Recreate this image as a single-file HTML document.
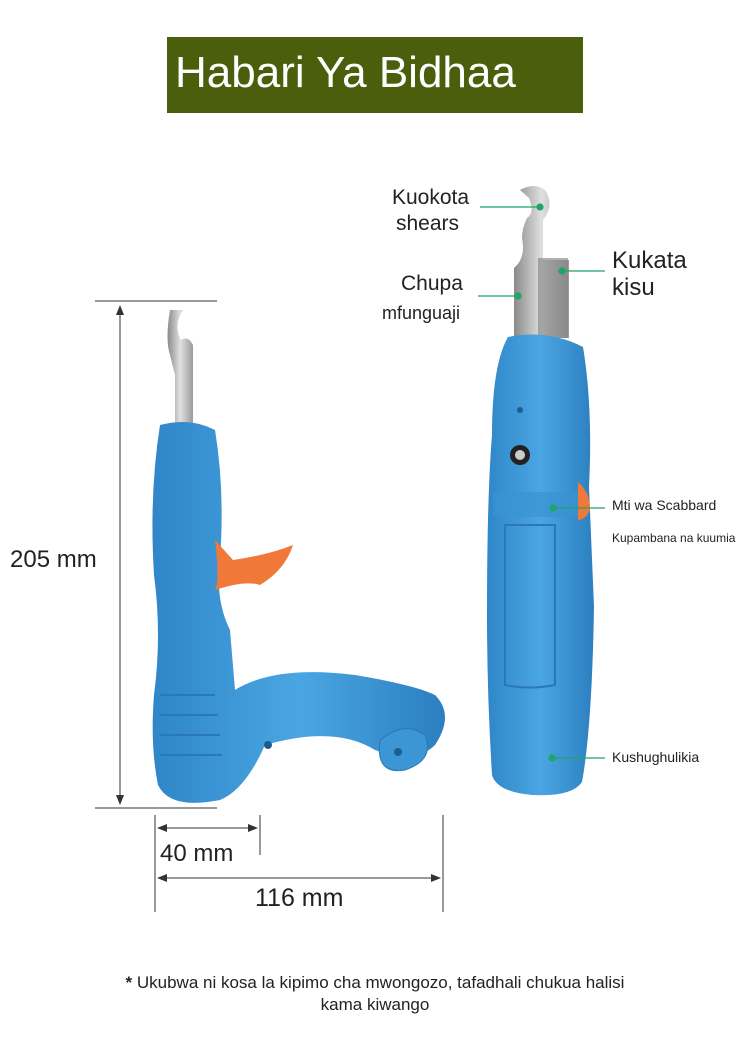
<!DOCTYPE html>
<html><head><meta charset="utf-8"><style>
body{margin:0;background:#fff;}
.wrap{position:relative;width:750px;height:1059px;overflow:hidden;font-family:"Liberation Sans",sans-serif;}
.t{position:absolute;color:#222;white-space:nowrap;}
</style></head><body><div class="wrap">
<div style="position:absolute;left:167px;top:37px;width:416px;height:76px;background:#4a5e0b;"></div>
<div class="t" style="left:175px;top:48px;font-size:44px;color:#fff;">Habari Ya Bidhaa</div>

<svg width="750" height="1059" style="position:absolute;left:0;top:0">
<defs>
<linearGradient id="bl" x1="0" x2="1"><stop offset="0" stop-color="#2f86c8"/><stop offset=".5" stop-color="#4aa6e2"/><stop offset="1" stop-color="#2c7fc0"/></linearGradient>
<linearGradient id="st" x1="0" x2="1"><stop offset="0" stop-color="#8a8a8a"/><stop offset=".5" stop-color="#e0e0e0"/><stop offset="1" stop-color="#9a9a9a"/></linearGradient>
</defs>
<g stroke="#333" stroke-width="1" fill="none">
<line x1="95" y1="301" x2="217" y2="301"/><line x1="95" y1="808" x2="217" y2="808"/>
<line x1="120" y1="308" x2="120" y2="802"/>
<line x1="155" y1="815" x2="155" y2="912"/><line x1="260" y1="815" x2="260" y2="855"/><line x1="443" y1="815" x2="443" y2="912"/>
<line x1="160" y1="828" x2="255" y2="828"/><line x1="160" y1="878" x2="438" y2="878"/>
</g>
<g fill="#333">
<path d="M120 305l-4 10h8z"/><path d="M120 805l-4-10h8z"/>
<path d="M157 828l10-4v8z"/><path d="M258 828l-10-4v8z"/>
<path d="M157 878l10-4v8z"/><path d="M441 878l-10-4v8z"/>
</g>
<path d="M170 310 q-5 30 0 45 l5 20 v50 h18 v-80 q-5 -10 -12 -5 q-8 -15 2 -30z" fill="url(#st)"/>
<path d="M160 425 q30 -8 55 5 q10 60 5 130 q-5 40 10 70 l5 60 q40 -25 120 -15 q60 10 80 20 q20 20 0 50 q-20 20 -60 5 q-40 -25 -110 -5 q-20 45 -45 55 q-50 10 -62 -15 q-8 -40 -4 -90 q8 -60 0 -120 q-5 -80 6 -150z" fill="url(#bl)"/>
<path d="M215 540 q5 40 0 50 q30 -10 45 -5 q25 -15 33 -40 q-25 10 -60 15z" fill="#f07838"/>
<g stroke="#2a78b8" stroke-width="2"><line x1="160" y1="695" x2="215" y2="695"/><line x1="160" y1="715" x2="218" y2="715"/><line x1="160" y1="735" x2="220" y2="735"/><line x1="160" y1="755" x2="222" y2="755"/></g>
<path d="M380 740 q25 -20 45 -5 q10 25 -20 35 q-30 5 -25 -30z" fill="#3c96d4" stroke="#2a78b8"/>
<circle cx="398" cy="752" r="4" fill="#1d5d8e"/><circle cx="268" cy="745" r="4" fill="#1d5d8e"/>
<path d="M520 190 q15 -8 25 0 q10 15 -2 30 v40 h26 v78 h-55 v-70 q12 -10 8 -30 q0 -10 5 -20 q8 -5 2 -20z" fill="url(#st)"/>
<path d="M538 258 h30 v80 h-30z" fill="#7d7d7d" opacity=".6"/>
<path d="M508 337 q40 -8 75 10 q10 60 6 140 l5 120 q-2 120 -12 175 q-10 15 -50 13 q-35 -3 -40 -20 q-5 -80 -5 -160 q0 -120 5 -180 q0 -70 16 -98z" fill="url(#bl)"/>
<path d="M493 492 h95 v25 h-95z" fill="#3a93d2" opacity=".7"/>
<path d="M505 525 h50 v160 q-25 5 -50 0z" fill="none" stroke="#2a78b8" stroke-width="2"/>
<circle cx="520" cy="455" r="10" fill="#222"/><circle cx="520" cy="455" r="5" fill="#ccc"/>
<circle cx="520" cy="410" r="3" fill="#1d5d8e"/>
<path d="M578 482 q12 10 12 28 q-5 10 -12 10z" fill="#f07838"/>
<g stroke="#1fa566" stroke-width="1.2" fill="#1fa566">
<line x1="480" y1="207" x2="540" y2="207"/><circle cx="540" cy="207" r="3"/>
<line x1="478" y1="296" x2="518" y2="296"/><circle cx="518" cy="296" r="3"/>
<line x1="562" y1="271" x2="605" y2="271"/><circle cx="562" cy="271" r="3"/>
<line x1="553" y1="508" x2="605" y2="508"/><circle cx="553" cy="508" r="3"/>
<line x1="552" y1="758" x2="605" y2="758"/><circle cx="552" cy="758" r="3"/>
</g>
</svg>

<div class="t" style="left:10px;top:546px;font-size:24px;">205 mm</div>
<div class="t" style="left:160px;top:840px;font-size:24px;">40 mm</div>
<div class="t" style="left:255px;top:884px;font-size:25px;">116 mm</div>
<div class="t" style="left:392px;top:186px;font-size:21px;">Kuokota</div>
<div class="t" style="left:396px;top:212px;font-size:21px;">shears</div>
<div class="t" style="left:401px;top:272px;font-size:21px;">Chupa</div>
<div class="t" style="left:382px;top:303px;font-size:18px;">mfunguaji</div>
<div class="t" style="left:612px;top:247px;font-size:24px;">Kukata</div>
<div class="t" style="left:612px;top:274px;font-size:24px;">kisu</div>
<div class="t" style="left:612px;top:497px;font-size:14px;">Mti wa Scabbard</div>
<div class="t" style="left:612px;top:531px;font-size:12px;">Kupambana na kuumia</div>
<div class="t" style="left:612px;top:749px;font-size:14px;">Kushughulikia</div>
<div class="t" style="left:0;width:750px;text-align:center;top:972px;font-size:17px;white-space:normal;line-height:22px;"><b>*</b> Ukubwa ni kosa la kipimo cha mwongozo, tafadhali chukua halisi<br>kama kiwango</div>
</div></body></html>
